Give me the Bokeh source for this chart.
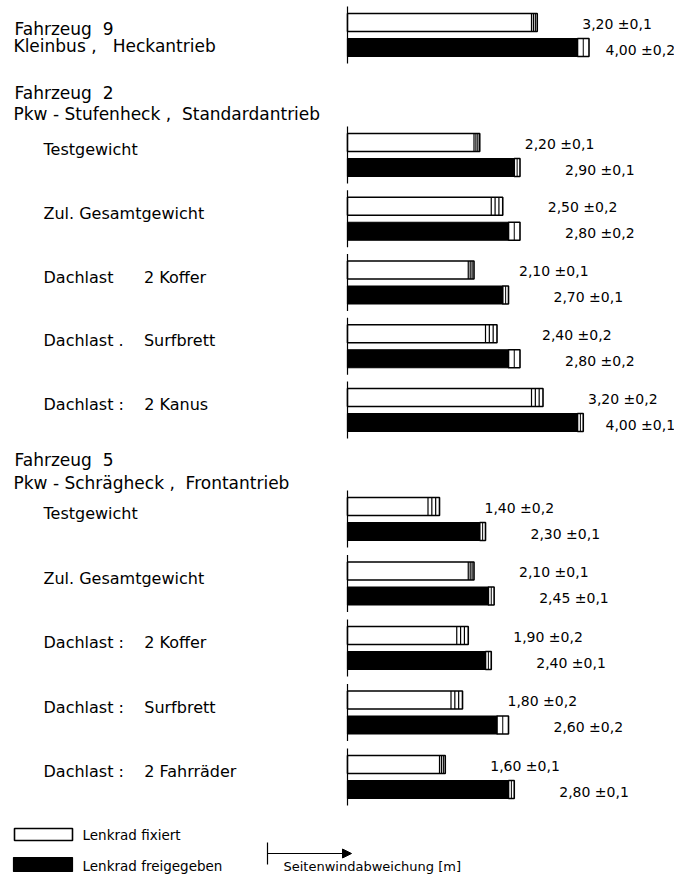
from bokeh.plotting import figure
from bokeh.models import Range1d, Arrow, NormalHead
from bokeh.core.properties import value
from bokeh.embed import file_html
from bokeh.resources import INLINE

NB = "\u00a0"

# ---------------- data ----------------
vehicles = ["Fahrzeug" + NB + " 9", "Fahrzeug" + NB + " 2", "Fahrzeug" + NB + " 5"]
vehicle_desc = ["Kleinbus" + NB + "," + NB + NB + " Heckantrieb",
                "Pkw - Stufenheck" + NB + "," + NB + NB + "Standardantrieb",
                "Pkw - Schrägheck" + NB + "," + NB + NB + "Frontantrieb"]
row_vehicle = [0, 1, 1, 1, 1, 1, 2, 2, 2, 2, 2]
row_labels = ["", "Testgewicht", "Zul. Gesamtgewicht",
              "Dachlast" + NB * 5 + " 2 Koffer",
              "Dachlast ." + NB * 3 + " Surfbrett",
              "Dachlast :" + NB * 3 + " 2 Kanus",
              "Testgewicht", "Zul. Gesamtgewicht",
              "Dachlast :" + NB * 3 + " 2 Koffer",
              "Dachlast :" + NB * 3 + " Surfbrett",
              "Dachlast :" + NB * 3 + " 2 Fahrräder"]
fixiert = [3.20, 2.20, 2.50, 2.10, 2.40, 3.20, 1.40, 2.10, 1.90, 1.80, 1.60]
fixiert_err = [0.1, 0.1, 0.2, 0.1, 0.2, 0.2, 0.2, 0.1, 0.2, 0.2, 0.1]
frei = [4.00, 2.90, 2.80, 2.70, 2.80, 4.00, 2.30, 2.45, 2.40, 2.60, 2.80]
frei_err = [0.2, 0.1, 0.2, 0.1, 0.2, 0.1, 0.1, 0.1, 0.1, 0.2, 0.1]
legend_labels = ["Lenkrad fixiert", "Lenkrad freigegeben"]
axis_label = "Seitenwindabweichung [m]"

# ---------------- layout ----------------
S = 57.5          # px per metre
X0 = 347          # page x of zero line
W, H = 674, 878

def px(xp):
    return (xp - X0) / S

FONT = value("DejaVu Sans")

p = figure(width=W, height=H, output_backend="svg", toolbar_location=None,
           x_range=Range1d(px(0), px(W)), y_range=Range1d(H, 0),
           min_border=0, outline_line_color=None)
p.axis.visible = False
p.grid.visible = False
p.background_fill_color = "white"

# vertical positions (page pixel rows)
header_y = [(28, 45), (92, 113), (459, 482)]
group_start = {0: 22, 1: 142, 2: 506}
group_pitch = {0: 0, 1: 63.75, 2: 64.5}
white_y, black_y = [], []
count = {0: 0, 1: 0, 2: 0}
for v in row_vehicle:
    yc = group_start[v] + group_pitch[v] * count[v]
    count[v] += 1
    white_y.append(yc)
    black_y.append(yc + 25)

BH = 9  # half bar height

# headers
hx, hy, ht = [], [], []
for i, (a, b) in enumerate(header_y):
    hx += [px(14), px(13)]
    hy += [a, b]
    ht += [vehicles[i], vehicle_desc[i]]
p.text(x=hx, y=hy, text=ht, text_font=FONT, text_font_size="17px",
       text_baseline="middle", text_align="left", text_color="black")

# row labels
lx, ly, lt = [], [], []
for i, lab in enumerate(row_labels):
    if lab:
        lx.append(px(43))
        ly.append(white_y[i] + 7)
        lt.append(lab)
p.text(x=lx, y=ly, text=lt, text_font=FONT, text_font_size="16px",
       text_baseline="middle", text_align="left", text_color="black")

# zero lines
p.segment(x0=[0] * len(white_y), x1=[0] * len(white_y),
          y0=[y - 16 for y in white_y], y1=[y + 16 for y in black_y],
          line_color="black", line_width=1.2)

# white bars (fixiert)
fix_end = [a + e for a, e in zip(fixiert, fixiert_err)]
p.quad(left=[0] * len(fixiert), right=fix_end,
       top=[y - BH for y in white_y], bottom=[y + BH for y in white_y],
       fill_color="white", line_color="black", line_width=1.6)
hxs0, hys0, hys1 = [], [], []
for a, e, y in zip(fixiert, fixiert_err, white_y):
    for k in range(3):
        hxs0.append(a + e * k / 3)
        hys0.append(y - BH)
        hys1.append(y + BH)
p.segment(x0=hxs0, x1=hxs0, y0=hys0, y1=hys1, line_color="black", line_width=1.2)

# black bars (freigegeben)
p.quad(left=[0] * len(frei), right=frei,
       top=[y - BH for y in black_y], bottom=[y + BH for y in black_y],
       fill_color="black", line_color="black", line_width=1.2)
frei_end = [a + e for a, e in zip(frei, frei_err)]
p.quad(left=frei, right=frei_end,
       top=[y - BH for y in black_y], bottom=[y + BH for y in black_y],
       fill_color="white", line_color="black", line_width=1.6)
bxs = [a + e / 2 for a, e in zip(frei, frei_err)]
p.segment(x0=bxs, x1=bxs, y0=[y - BH for y in black_y], y1=[y + BH for y in black_y],
          line_color="black", line_width=1.0)

# value labels
def fmt(v, e):
    return f"{v:.2f}".replace(".", ",") + " ±" + f"{e:.1f}".replace(".", ",")

cap = px(605)
vx = [min(e + px(X0 + 45), cap) for e in fix_end] + [min(e + px(X0 + 45), cap) for e in frei_end]
vy = [y + 1 for y in white_y] + [y + 2 for y in black_y]
vt = [fmt(a, e) for a, e in zip(fixiert, fixiert_err)] + [fmt(a, e) for a, e in zip(frei, frei_err)]
p.text(x=vx, y=vy, text=vt, text_font=FONT, text_font_size="14px",
       text_baseline="middle", text_align="left", text_color="black")

# legend
p.quad(left=[px(14)], right=[px(72)], top=[828], bottom=[840],
       fill_color="white", line_color="black", line_width=1.6)
p.quad(left=[px(13)], right=[px(72)], top=[857], bottom=[871],
       fill_color="black", line_color="black", line_width=1.2)
p.text(x=[px(82), px(82)], y=[834, 865], text=legend_labels, text_font=FONT,
       text_font_size="13.5px", text_baseline="middle", text_align="left", text_color="black")

# axis arrow
p.segment(x0=[px(267)], x1=[px(267)], y0=[842], y1=[864], line_color="black", line_width=1.2)
p.add_layout(Arrow(x_start=px(267), y_start=853, x_end=px(351), y_end=853,
                   line_color="black", line_width=1.2,
                   end=NormalHead(size=9, fill_color="black", line_color="black")))
p.text(x=[px(283)], y=[866], text=[axis_label], text_font=FONT, text_font_size="13px",
       text_baseline="middle", text_align="left", text_color="black")

open("out.html", "w").write(file_html(p, INLINE))
